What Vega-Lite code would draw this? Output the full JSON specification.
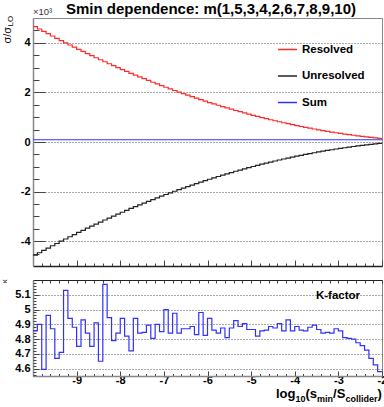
{
  "$schema": "https://vega.github.io/schema/vega-lite/v6.json",
  "autosize": {"type": "pad"},
  "padding": {"left": 0, "top": 2, "right": 0, "bottom": 0},
  "background": "white",
  "title": {"text": "Smin dependence: m(1,5,3,4,2,6,7,8,9,10)", "anchor": "middle", "dx": 17, "fontSize": 15, "font": "Liberation Sans", "fontWeight": "bold", "baseline": "alphabetic", "offset": -23, "color": "#000"},
  "spacing": 11,
  "config": {
    "font": "Liberation Sans",
    "view": {"stroke": "#888", "strokeWidth": 1},
    "axis": {"labelFont": "Liberation Sans", "labelFontWeight": "bold", "labelFontSize": 11, "labelColor": "#000", "tickColor": "#444", "domainColor": "#888", "domainWidth": 1.5, "gridDash": [1, 2], "gridColor": "#555", "labelOverlap": false, "labelBound": false, "labelFlush": false}
  },
  "datasets": {
    "top": [
      {"x": -10, "Resolved": 4652, "Unresolved": -4562, "Sum": 90},
      {"x": -9.9, "Resolved": 4556, "Unresolved": -4466, "Sum": 90},
      {"x": -9.8, "Resolved": 4461, "Unresolved": -4371, "Sum": 90},
      {"x": -9.7, "Resolved": 4366, "Unresolved": -4276, "Sum": 90},
      {"x": -9.6, "Resolved": 4274, "Unresolved": -4184, "Sum": 90},
      {"x": -9.5, "Resolved": 4182, "Unresolved": -4092, "Sum": 90},
      {"x": -9.4, "Resolved": 4090, "Unresolved": -4000, "Sum": 90},
      {"x": -9.3, "Resolved": 4001, "Unresolved": -3911, "Sum": 90},
      {"x": -9.2, "Resolved": 3911, "Unresolved": -3821, "Sum": 90},
      {"x": -9.1, "Resolved": 3824, "Unresolved": -3734, "Sum": 90},
      {"x": -9, "Resolved": 3737, "Unresolved": -3647, "Sum": 90},
      {"x": -8.9, "Resolved": 3651, "Unresolved": -3561, "Sum": 90},
      {"x": -8.8, "Resolved": 3566, "Unresolved": -3476, "Sum": 90},
      {"x": -8.7, "Resolved": 3482, "Unresolved": -3392, "Sum": 90},
      {"x": -8.6, "Resolved": 3398, "Unresolved": -3308, "Sum": 90},
      {"x": -8.5, "Resolved": 3317, "Unresolved": -3227, "Sum": 90},
      {"x": -8.4, "Resolved": 3235, "Unresolved": -3145, "Sum": 90},
      {"x": -8.3, "Resolved": 3156, "Unresolved": -3066, "Sum": 90},
      {"x": -8.2, "Resolved": 3077, "Unresolved": -2987, "Sum": 90},
      {"x": -8.1, "Resolved": 2998, "Unresolved": -2908, "Sum": 90},
      {"x": -8, "Resolved": 2922, "Unresolved": -2832, "Sum": 90},
      {"x": -7.9, "Resolved": 2846, "Unresolved": -2756, "Sum": 90},
      {"x": -7.8, "Resolved": 2770, "Unresolved": -2680, "Sum": 90},
      {"x": -7.7, "Resolved": 2697, "Unresolved": -2607, "Sum": 90},
      {"x": -7.6, "Resolved": 2624, "Unresolved": -2534, "Sum": 90},
      {"x": -7.5, "Resolved": 2552, "Unresolved": -2462, "Sum": 90},
      {"x": -7.4, "Resolved": 2481, "Unresolved": -2391, "Sum": 90},
      {"x": -7.3, "Resolved": 2410, "Unresolved": -2320, "Sum": 90},
      {"x": -7.2, "Resolved": 2341, "Unresolved": -2251, "Sum": 90},
      {"x": -7.1, "Resolved": 2274, "Unresolved": -2184, "Sum": 90},
      {"x": -7, "Resolved": 2207, "Unresolved": -2117, "Sum": 90},
      {"x": -6.9, "Resolved": 2141, "Unresolved": -2051, "Sum": 90},
      {"x": -6.8, "Resolved": 2076, "Unresolved": -1986, "Sum": 90},
      {"x": -6.7, "Resolved": 2012, "Unresolved": -1922, "Sum": 90},
      {"x": -6.6, "Resolved": 1949, "Unresolved": -1859, "Sum": 90},
      {"x": -6.5, "Resolved": 1887, "Unresolved": -1797, "Sum": 90},
      {"x": -6.4, "Resolved": 1826, "Unresolved": -1736, "Sum": 90},
      {"x": -6.3, "Resolved": 1766, "Unresolved": -1676, "Sum": 90},
      {"x": -6.2, "Resolved": 1707, "Unresolved": -1617, "Sum": 90},
      {"x": -6.1, "Resolved": 1649, "Unresolved": -1559, "Sum": 90},
      {"x": -6, "Resolved": 1591, "Unresolved": -1501, "Sum": 90},
      {"x": -5.9, "Resolved": 1535, "Unresolved": -1445, "Sum": 90},
      {"x": -5.8, "Resolved": 1481, "Unresolved": -1391, "Sum": 90},
      {"x": -5.7, "Resolved": 1427, "Unresolved": -1337, "Sum": 90},
      {"x": -5.6, "Resolved": 1374, "Unresolved": -1284, "Sum": 90},
      {"x": -5.5, "Resolved": 1322, "Unresolved": -1232, "Sum": 90},
      {"x": -5.4, "Resolved": 1270, "Unresolved": -1180, "Sum": 90},
      {"x": -5.3, "Resolved": 1221, "Unresolved": -1131, "Sum": 90},
      {"x": -5.2, "Resolved": 1172, "Unresolved": -1082, "Sum": 90},
      {"x": -5.1, "Resolved": 1123, "Unresolved": -1033, "Sum": 90},
      {"x": -5, "Resolved": 1077, "Unresolved": -987, "Sum": 90},
      {"x": -4.9, "Resolved": 1031, "Unresolved": -941, "Sum": 90},
      {"x": -4.8, "Resolved": 985, "Unresolved": -895, "Sum": 90},
      {"x": -4.7, "Resolved": 942, "Unresolved": -852, "Sum": 90},
      {"x": -4.6, "Resolved": 898, "Unresolved": -808, "Sum": 90},
      {"x": -4.5, "Resolved": 857, "Unresolved": -767, "Sum": 90},
      {"x": -4.4, "Resolved": 816, "Unresolved": -726, "Sum": 90},
      {"x": -4.3, "Resolved": 776, "Unresolved": -686, "Sum": 90},
      {"x": -4.2, "Resolved": 737, "Unresolved": -647, "Sum": 90},
      {"x": -4.1, "Resolved": 699, "Unresolved": -609, "Sum": 90},
      {"x": -4, "Resolved": 661, "Unresolved": -571, "Sum": 90},
      {"x": -3.9, "Resolved": 626, "Unresolved": -536, "Sum": 90},
      {"x": -3.8, "Resolved": 590, "Unresolved": -500, "Sum": 90},
      {"x": -3.7, "Resolved": 557, "Unresolved": -467, "Sum": 90},
      {"x": -3.6, "Resolved": 524, "Unresolved": -434, "Sum": 90},
      {"x": -3.5, "Resolved": 491, "Unresolved": -401, "Sum": 90},
      {"x": -3.4, "Resolved": 461, "Unresolved": -371, "Sum": 90},
      {"x": -3.3, "Resolved": 431, "Unresolved": -341, "Sum": 90},
      {"x": -3.2, "Resolved": 402, "Unresolved": -312, "Sum": 90},
      {"x": -3.1, "Resolved": 373, "Unresolved": -283, "Sum": 90},
      {"x": -3, "Resolved": 347, "Unresolved": -257, "Sum": 90},
      {"x": -2.9, "Resolved": 321, "Unresolved": -231, "Sum": 90},
      {"x": -2.8, "Resolved": 296, "Unresolved": -206, "Sum": 90},
      {"x": -2.7, "Resolved": 272, "Unresolved": -182, "Sum": 90},
      {"x": -2.6, "Resolved": 248, "Unresolved": -158, "Sum": 90},
      {"x": -2.5, "Resolved": 226, "Unresolved": -136, "Sum": 90},
      {"x": -2.4, "Resolved": 206, "Unresolved": -116, "Sum": 90},
      {"x": -2.3, "Resolved": 186, "Unresolved": -96, "Sum": 90},
      {"x": -2.2, "Resolved": 167, "Unresolved": -77, "Sum": 90},
      {"x": -2.1, "Resolved": 149, "Unresolved": -59, "Sum": 90},
      {"x": -2, "Resolved": 149, "Unresolved": -59, "Sum": 90}
    ],
    "kf": [
      {"x": -10, "k": 4.855}, {"x": -9.9, "k": 4.9}, {"x": -9.8, "k": 4.595}, {"x": -9.7, "k": 4.96}, {"x": -9.6, "k": 4.87},
      {"x": -9.5, "k": 4.67}, {"x": -9.4, "k": 4.71}, {"x": -9.3, "k": 5.13}, {"x": -9.2, "k": 4.94}, {"x": -9.1, "k": 4.88},
      {"x": -9, "k": 4.75}, {"x": -8.9, "k": 4.93}, {"x": -8.8, "k": 4.84}, {"x": -8.7, "k": 4.75}, {"x": -8.6, "k": 4.91},
      {"x": -8.5, "k": 4.65}, {"x": -8.4, "k": 5.17}, {"x": -8.3, "k": 4.945}, {"x": -8.2, "k": 4.79}, {"x": -8.1, "k": 4.84},
      {"x": -8, "k": 4.94}, {"x": -7.9, "k": 4.82}, {"x": -7.8, "k": 4.72}, {"x": -7.7, "k": 4.94}, {"x": -7.6, "k": 4.84},
      {"x": -7.5, "k": 4.845}, {"x": -7.4, "k": 4.895}, {"x": -7.3, "k": 4.805}, {"x": -7.2, "k": 4.9}, {"x": -7.1, "k": 4.85},
      {"x": -7, "k": 5.0}, {"x": -6.9, "k": 4.84}, {"x": -6.8, "k": 4.975}, {"x": -6.7, "k": 4.84}, {"x": -6.6, "k": 4.87},
      {"x": -6.5, "k": 4.87}, {"x": -6.4, "k": 4.885}, {"x": -6.3, "k": 4.83}, {"x": -6.2, "k": 4.98}, {"x": -6.1, "k": 4.825},
      {"x": -6, "k": 4.94}, {"x": -5.9, "k": 4.86}, {"x": -5.8, "k": 4.84}, {"x": -5.7, "k": 4.875}, {"x": -5.6, "k": 4.81},
      {"x": -5.5, "k": 4.875}, {"x": -5.4, "k": 4.925}, {"x": -5.3, "k": 4.885}, {"x": -5.2, "k": 4.905}, {"x": -5.1, "k": 4.865},
      {"x": -5, "k": 4.865}, {"x": -4.9, "k": 4.82}, {"x": -4.8, "k": 4.855}, {"x": -4.7, "k": 4.86}, {"x": -4.6, "k": 4.885},
      {"x": -4.5, "k": 4.875}, {"x": -4.4, "k": 4.905}, {"x": -4.3, "k": 4.855}, {"x": -4.2, "k": 4.93}, {"x": -4.1, "k": 4.855},
      {"x": -4, "k": 4.885}, {"x": -3.9, "k": 4.86}, {"x": -3.8, "k": 4.855}, {"x": -3.7, "k": 4.88}, {"x": -3.6, "k": 4.895},
      {"x": -3.5, "k": 4.865}, {"x": -3.4, "k": 4.84}, {"x": -3.3, "k": 4.845}, {"x": -3.2, "k": 4.84}, {"x": -3.1, "k": 4.87},
      {"x": -3, "k": 4.855}, {"x": -2.9, "k": 4.81}, {"x": -2.8, "k": 4.805}, {"x": -2.7, "k": 4.8}, {"x": -2.6, "k": 4.775},
      {"x": -2.5, "k": 4.755}, {"x": -2.4, "k": 4.725}, {"x": -2.3, "k": 4.67}, {"x": -2.2, "k": 4.625}, {"x": -2.1, "k": 4.58},
      {"x": -2, "k": 4.58}
    ],
    "one": [{}]
  },
  "vconcat": [
    {
      "width": 349,
      "height": 248,
      "layer": [
        {
          "data": {"name": "top"},
          "transform": [{"fold": ["Resolved", "Unresolved", "Sum"], "as": ["series", "sigma"]}],
          "mark": {"type": "line", "interpolate": "step-after", "strokeWidth": 1.2},
          "encoding": {
            "x": {"field": "x", "type": "quantitative", "scale": {"domain": [-10, -2], "nice": false, "zero": false},
              "axis": {"title": null, "values": [-10, -9.8, -9.6, -9.4, -9.2, -9, -8.8, -8.6, -8.4, -8.2, -8, -7.8, -7.6, -7.4, -7.2, -7, -6.8, -6.6, -6.4, -6.2, -6, -5.8, -5.6, -5.4, -5.2, -5, -4.8, -4.6, -4.4, -4.2, -4, -3.8, -3.6, -3.4, -3.2, -3, -2.8, -2.6, -2.4, -2.2, -2],
                "labels": false, "grid": false, "domainColor": "#222", "domainWidth": 1.5,
                "tickSize": {"expr": "abs(datum.value - round(datum.value)) < 0.001 ? -6 : -3"}}},
            "y": {"field": "sigma", "type": "quantitative", "scale": {"domain": [-5000, 5000], "nice": false},
              "axis": {"title": null, "values": [-4000, -2000, 0, 2000, 4000],
                "labelExpr": "'' + (datum.value / 1000)", "labelOverlap": false,
                "tickSize": -12, "labelPadding": 15, "grid": true}},
            "color": {"field": "series", "type": "nominal",
              "scale": {"domain": ["Resolved", "Unresolved", "Sum"], "range": ["#ff2a2a", "#222222", "#3030ff"]},
              "legend": {"orient": "none", "legendX": 244, "legendY": 21, "title": null, "symbolType": "stroke", "symbolSize": 361, "symbolStrokeWidth": 1.5, "labelFontSize": 11.5, "labelFontWeight": "bold", "labelFont": "Liberation Sans", "labelColor": "#000", "labelOffset": 4, "rowPadding": 10.5, "padding": 0}}
          }
        },
        {
          "data": {"name": "top"},
          "mark": {"type": "point", "opacity": 0},
          "encoding": {
            "x": {"field": "x", "type": "quantitative", "axis": null},
            "y": {"field": "Resolved", "type": "quantitative",
              "axis": {"orient": "left", "title": null, "labels": false, "grid": false, "domain": false, "tickSize": -6,
                "values": [-4500, -3500, -3000, -2500, -1500, -1000, -500, 500, 1000, 1500, 2500, 3000, 3500, 4500]}}
          }
        },
        {
          "data": {"name": "one"},
          "mark": {"type": "text", "align": "left", "baseline": "alphabetic", "fontSize": 9.5, "color": "#333"},
          "encoding": {"x": {"datum": -10, "type": "quantitative", "axis": null}, "y": {"datum": 5121, "type": "quantitative", "axis": null}, "text": {"value": "×10³"}}
        },
        {
          "data": {"name": "one"},
          "mark": {"type": "text", "align": "left", "baseline": "alphabetic", "fontSize": 11, "angle": 270, "color": "#000"},
          "encoding": {"x": {"datum": -10.504, "type": "quantitative", "axis": null}, "y": {"datum": 3972, "type": "quantitative", "axis": null}, "text": {"value": "σ/σ"}}
        },
        {
          "data": {"name": "one"},
          "mark": {"type": "text", "align": "left", "baseline": "alphabetic", "fontSize": 8, "angle": 270, "color": "#000"},
          "encoding": {"x": {"datum": -10.447, "type": "quantitative", "axis": null}, "y": {"datum": 4657, "type": "quantitative", "axis": null}, "text": {"value": "LO"}}
        }
      ],
      "resolve": {"axis": {"x": "independent", "y": "independent"}}
    },
    {
      "width": 349,
      "height": 96,
      "layer": [
        {
          "data": {"name": "kf"},
          "mark": {"type": "line", "interpolate": "step-after", "strokeWidth": 1.2, "color": "#3030ff"},
          "encoding": {
            "x": {"field": "x", "type": "quantitative", "scale": {"domain": [-10, -2], "nice": false, "zero": false},
              "axis": {"title": null, "values": [-10, -9.8, -9.6, -9.4, -9.2, -9, -8.8, -8.6, -8.4, -8.2, -8, -7.8, -7.6, -7.4, -7.2, -7, -6.8, -6.6, -6.4, -6.2, -6, -5.8, -5.6, -5.4, -5.2, -5, -4.8, -4.6, -4.4, -4.2, -4, -3.8, -3.6, -3.4, -3.2, -3, -2.8, -2.6, -2.4, -2.2, -2],
                "labelExpr": "abs(datum.value - round(datum.value)) < 0.001 && datum.value > -9.5 ? '' + round(datum.value) : ''",
                "tickSize": {"expr": "abs(datum.value - round(datum.value)) < 0.001 ? -5 : -2.5"},
                "labelPadding": 3, "grid": false}},
            "y": {"field": "k", "type": "quantitative", "scale": {"domain": [4.55, 5.2], "nice": false, "zero": false},
              "axis": {"title": null, "values": [4.6, 4.7, 4.8, 4.9, 5, 5.1],
                "labelExpr": "format(datum.value, '.1~f')", "labelOverlap": false,
                "tickSize": -6, "labelPadding": 9, "grid": true}}
          }
        },
        {
          "data": {"name": "kf"},
          "mark": {"type": "point", "opacity": 0},
          "encoding": {
            "x": {"field": "x", "type": "quantitative",
              "axis": {"orient": "top", "title": null, "labels": false, "grid": false, "domainColor": "#222", "domainWidth": 1,
                "values": [-10, -9.8, -9.6, -9.4, -9.2, -9, -8.8, -8.6, -8.4, -8.2, -8, -7.8, -7.6, -7.4, -7.2, -7, -6.8, -6.6, -6.4, -6.2, -6, -5.8, -5.6, -5.4, -5.2, -5, -4.8, -4.6, -4.4, -4.2, -4, -3.8, -3.6, -3.4, -3.2, -3, -2.8, -2.6, -2.4, -2.2, -2],
                "tickSize": -3}},
            "y": {"field": "k", "type": "quantitative",
              "axis": {"orient": "left", "title": null, "labels": false, "grid": false, "domain": false, "tickSize": -3,
                "values": [4.56, 4.58, 4.62, 4.64, 4.66, 4.68, 4.72, 4.74, 4.76, 4.78, 4.82, 4.84, 4.86, 4.88, 4.92, 4.94, 4.96, 4.98, 5.02, 5.04, 5.06, 5.08, 5.12, 5.14, 5.16, 5.18]}}
          }
        },
        {
          "data": {"name": "one"},
          "mark": {"type": "text", "align": "center", "baseline": "alphabetic", "fontSize": 11.5, "fontWeight": "bold", "color": "#000"},
          "encoding": {"x": {"datum": -3.009, "type": "quantitative", "axis": null}, "y": {"datum": 5.07, "type": "quantitative", "axis": null}, "text": {"value": "K-factor"}}
        },
        {
          "data": {"name": "one"},
          "mark": {"type": "text", "align": "left", "baseline": "alphabetic", "fontSize": 7, "angle": 270, "color": "#000"},
          "encoding": {"x": {"datum": -10.596, "type": "quantitative", "axis": null}, "y": {"datum": 5.18, "type": "quantitative", "axis": null}, "text": {"value": "κ"}}
        },
        {
          "data": {"name": "one"},
          "mark": {"type": "text", "align": "left", "baseline": "alphabetic", "fontSize": 13, "fontWeight": "bold", "color": "#000"},
          "encoding": {"x": {"datum": -4.4298, "type": "quantitative", "axis": null}, "y": {"datum": 4.4, "type": "quantitative", "axis": null}, "text": {"value": "log"}}
        },
        {
          "data": {"name": "one"},
          "mark": {"type": "text", "align": "left", "baseline": "alphabetic", "fontSize": 9, "fontWeight": "bold", "color": "#000"},
          "encoding": {"x": {"datum": -3.9828, "type": "quantitative", "axis": null}, "y": {"datum": 4.373, "type": "quantitative", "axis": null}, "text": {"value": "10"}}
        },
        {
          "data": {"name": "one"},
          "mark": {"type": "text", "align": "left", "baseline": "alphabetic", "fontSize": 13, "fontWeight": "bold", "color": "#000"},
          "encoding": {"x": {"datum": -3.7536, "type": "quantitative", "axis": null}, "y": {"datum": 4.4, "type": "quantitative", "axis": null}, "text": {"value": "(s"}}
        },
        {
          "data": {"name": "one"},
          "mark": {"type": "text", "align": "left", "baseline": "alphabetic", "fontSize": 9, "fontWeight": "bold", "color": "#000"},
          "encoding": {"x": {"datum": -3.4877, "type": "quantitative", "axis": null}, "y": {"datum": 4.373, "type": "quantitative", "axis": null}, "text": {"value": "min"}}
        },
        {
          "data": {"name": "one"},
          "mark": {"type": "text", "align": "left", "baseline": "alphabetic", "fontSize": 13, "fontWeight": "bold", "color": "#000"},
          "encoding": {"x": {"datum": -3.1209, "type": "quantitative", "axis": null}, "y": {"datum": 4.4, "type": "quantitative", "axis": null}, "text": {"value": "/S"}}
        },
        {
          "data": {"name": "one"},
          "mark": {"type": "text", "align": "left", "baseline": "alphabetic", "fontSize": 9, "fontWeight": "bold", "color": "#000"},
          "encoding": {"x": {"datum": -2.839, "type": "quantitative", "axis": null}, "y": {"datum": 4.373, "type": "quantitative", "axis": null}, "text": {"value": "collider"}}
        },
        {
          "data": {"name": "one"},
          "mark": {"type": "text", "align": "left", "baseline": "alphabetic", "fontSize": 13, "fontWeight": "bold", "color": "#000"},
          "encoding": {"x": {"datum": -2.1054, "type": "quantitative", "axis": null}, "y": {"datum": 4.4, "type": "quantitative", "axis": null}, "text": {"value": ")"}}
        }
      ],
      "resolve": {"axis": {"x": "independent", "y": "independent"}}
    }
  ]
}
